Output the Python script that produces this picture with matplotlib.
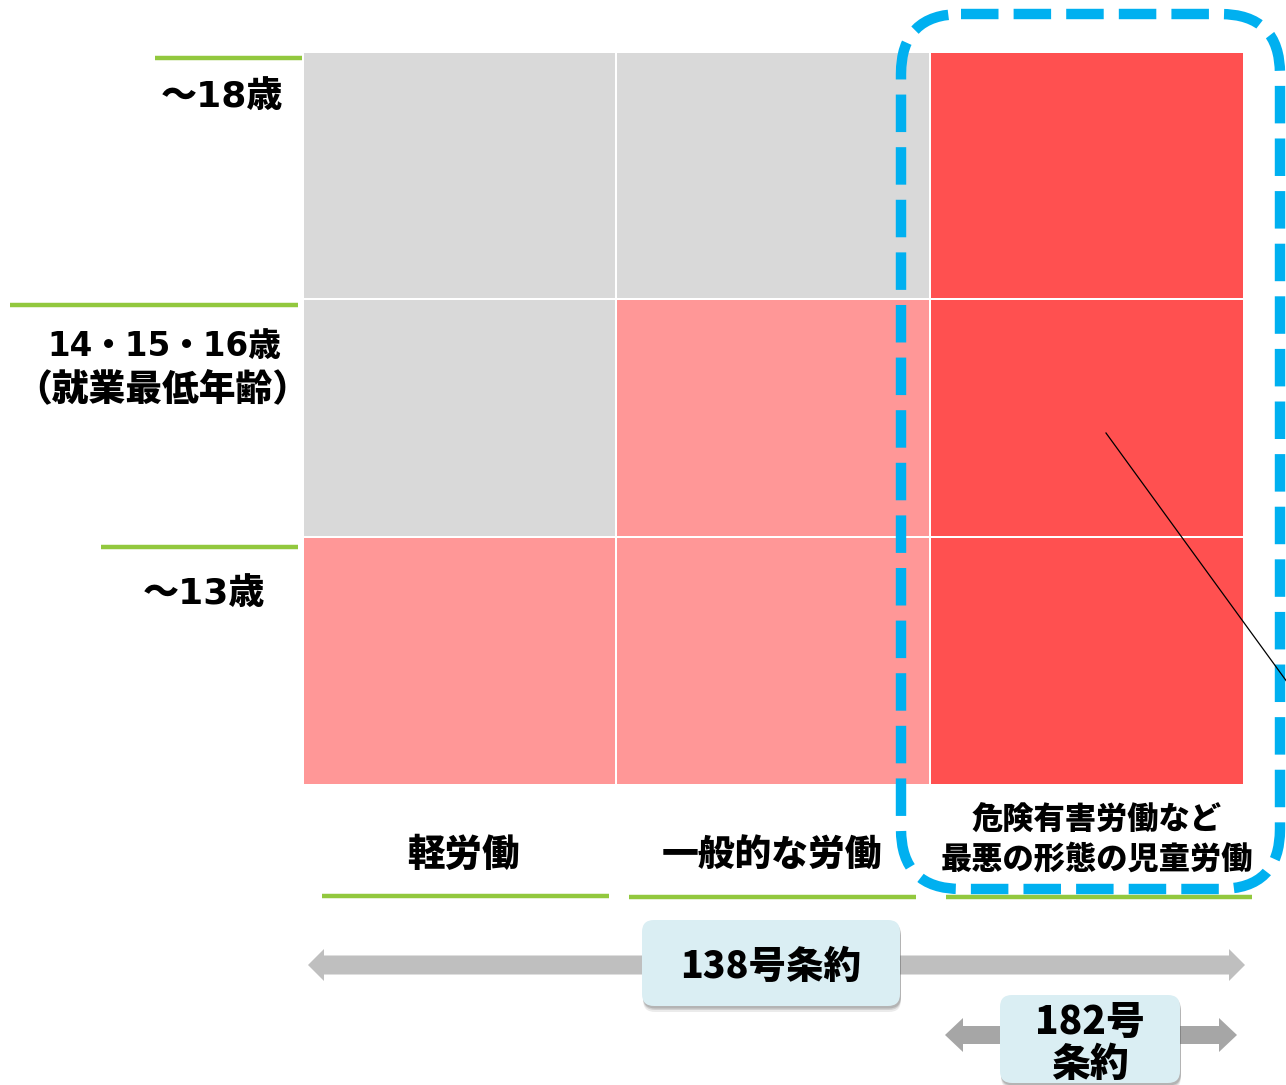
import matplotlib
matplotlib.use("Agg")
import matplotlib.pyplot as plt
from matplotlib.patches import Rectangle, FancyBboxPatch

plt.rcParams['font.family'] = ['Noto Sans CJK JP', 'DejaVu Sans']
MIX = ['DejaVu Sans', 'Noto Sans CJK JP']

# ---- data ----
age_labels = ["～18歳", "14・15・16歳\n（就業最低年齢）", "～13歳"]
work_labels = ["軽労働", "一般的な労働", "危険有害労働など\n最悪の形態の児童労働"]
# 0 = allowed (grey), 1 = prohibited (light red), 2 = worst forms (red)
cell_levels = [
    [0, 0, 2],
    [0, 1, 2],
    [1, 1, 2],
]
level_colors = ["#D9D9D9", "#FF9797", "#FF5050"]
treaty_labels = ["138号条約", "182号\n条約"]

# ---- layout (pixel space) ----
W, H = 1286, 1085
fig = plt.figure(figsize=(W / 100, H / 100), dpi=100)
ax = fig.add_axes([0, 0, 1, 1])
ax.set_xlim(0, W)
ax.set_ylim(H, 0)
ax.axis("off")

col_edges = [303, 616, 930, 1244]
row_edges = [52, 299, 537, 785]
gap = 1.2

for r, row in enumerate(cell_levels):
    for c, lvl in enumerate(row):
        x0, x1 = col_edges[c], col_edges[c + 1]
        y0, y1 = row_edges[r], row_edges[r + 1]
        ax.add_patch(Rectangle((x0 + gap, y0 + gap), x1 - x0 - 2 * gap, y1 - y0 - 2 * gap,
                               facecolor=level_colors[lvl], edgecolor="none", zorder=1))

green = "#92C83E"
for (xa, xb, y) in [(155, 302, 58), (10, 298, 305), (101, 298, 547)]:
    ax.plot([xa, xb], [y, y], color=green, lw=3.2, solid_capstyle="butt", zorder=2)
for (xa, xb, y) in [(322, 609, 896), (629, 916, 897), (946, 1252, 897)]:
    ax.plot([xa, xb], [y, y], color=green, lw=3.2, solid_capstyle="butt", zorder=2)

W8 = "heavy"
# row labels
ax.text(283, 97, age_labels[0], ha="right", va="center", fontsize=26, fontweight=W8, family=MIX)
l1, l2 = age_labels[1].split("\n")
ax.text(164, 346, l1, ha="center", va="center", fontsize=23.5, fontweight=W8, family=MIX)
ax.text(162, 390, l2, ha="center", va="center", fontsize=26.5, fontweight=W8)
ax.text(265, 594, age_labels[2], ha="right", va="center", fontsize=26, fontweight=W8, family=MIX)

# column labels
ax.text(463, 855, work_labels[0], ha="center", va="center", fontsize=27, fontweight=W8)
ax.text(772, 855, work_labels[1], ha="center", va="center", fontsize=26.5, fontweight=W8)
w1, w2 = work_labels[2].split("\n")
ax.text(1097, 820, w1, ha="center", va="center", fontsize=22.5, fontweight=W8)
ax.text(1097, 859, w2, ha="center", va="center", fontsize=22.5, fontweight=W8)

# dashed highlight box
box = FancyBboxPatch((901, 14), 1280 - 901, 889 - 14,
                     boxstyle="round,pad=0,rounding_size=60",
                     facecolor="none", edgecolor="#00B0F0", lw=7.5,
                     linestyle=(0, (3.6, 1.45)), capstyle="butt", zorder=5)
ax.add_patch(box)

# callout line
ax.plot([1106, 1290], [433, 686], color="black", lw=0.9, zorder=6)

def double_arrow(xa, xb, y, color, width, hw, hl):
    xm = (xa + xb) / 2
    for xe in (xa, xb):
        ax.arrow(xm, y, xe - xm, 0, width=width, head_width=hw, head_length=hl,
                 length_includes_head=True, color=color, lw=0, zorder=3)

double_arrow(308, 1245, 965, "#BFBFBF", 19, 32, 16)
double_arrow(945, 1237, 1035, "#A6A6A6", 18, 34, 18)

def label_box(x0, y0, w, h, text, fs, ys):
    for k, a in [(6, 0.12), (4, 0.18), (2.5, 0.25)]:
        sh = FancyBboxPatch((x0 + 1, y0 + k), w, h, boxstyle="round,pad=0,rounding_size=12",
                            facecolor="#606060", edgecolor="none", alpha=a, zorder=3.5)
        ax.add_patch(sh)
    b = FancyBboxPatch((x0, y0), w, h, boxstyle="round,pad=0,rounding_size=12",
                       facecolor="#DAEEF3", edgecolor="none", zorder=4)
    ax.add_patch(b)
    for line, yy in zip(text.split("\n"), ys):
        ax.text(x0 + w / 2, yy, line, ha="center", va="center", fontsize=fs,
                fontweight=W8, zorder=5)

label_box(642, 920, 258, 86, treaty_labels[0], 27, [967])
label_box(1000, 995, 180, 88, treaty_labels[1], 28, [1022, 1064])

fig.savefig("out.png", dpi=100)
